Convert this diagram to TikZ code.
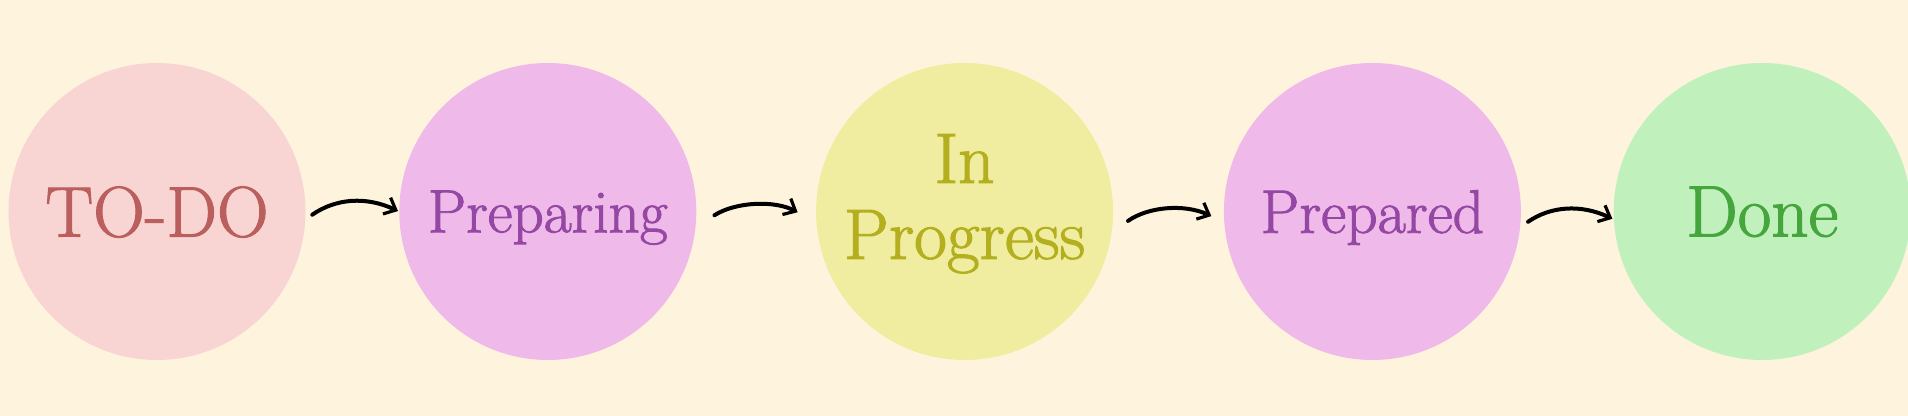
\documentclass[tikz,border=0pt]{standalone}
\usepackage{fontspec}
\usepackage{tikz}
\usetikzlibrary{positioning, arrows.meta}

\newfontfamily\stagefont{Latin Modern Roman}[FakeBold=1.5]

\definecolor{paper}{HTML}{FEF4DE}
\definecolor{todofill}{HTML}{F8D4D2}
\definecolor{todotext}{HTML}{BA5E5E}
\definecolor{prepfill}{HTML}{EFB9EA}
\definecolor{preptext}{HTML}{9448A4}
\definecolor{progfill}{HTML}{F0ECA0}
\definecolor{progtext}{HTML}{B4AF1E}
\definecolor{donefill}{HTML}{C0F0BC}
\definecolor{donetext}{HTML}{44A63C}

\begin{document}
\begin{tikzpicture}[
        node distance=50pt,
        stage/.style={circle, draw=none, minimum size=148.5pt, inner sep=0pt, align=center, text depth=0pt},
        flow/.style={-{Straight Barb[length=5pt, width=9pt, line width=1.6pt]}, line width=2pt, line cap=round, black, bend left=30}
    ]
    \fill[paper] (0,0) rectangle (954pt,208pt);
    \useasboundingbox (0,0) rectangle (954pt,208pt);

    \node[stage, fill=todofill, text=todotext, font=\stagefont\fontsize{35.8}{40}\selectfont] (todo) at (78.5pt,102.25pt) {TO-DO};
    \node[stage, fill=prepfill, text=preptext, font=\stagefont\fontsize{30.5}{36}\selectfont, right=46.5pt of todo] (preparing) {Preparing};
    \node[stage, fill=progfill, text=progtext, font=\stagefont\fontsize{35.7}{38}\selectfont, text depth=15pt, right=59.5pt of preparing] (progress) {In\\Progress};
    \node[stage, fill=prepfill, text=preptext, font=\stagefont\fontsize{30.8}{36}\selectfont, right=55pt of progress] (prepared) {Prepared};
    \node[stage, fill=donefill, text=donetext, font=\stagefont\fontsize{36.5}{42}\selectfont, right=46pt of prepared] (done) {Done};

    \draw[flow, shorten <=4pt, shorten >=0.5pt] (todo.-3.5) to (preparing.180.2);
    \draw[flow, shorten <=11pt, shorten >=10.4pt] (preparing.-6.8) to (progress.184.6);
    \draw[flow, shorten <=9.8pt, shorten >=6.9pt] (progress.-8.2) to (prepared.184.8);
    \draw[flow, shorten <=4.6pt, shorten >=0.6pt] (prepared.-6.6) to (done.183.1);
\end{tikzpicture}
\end{document}
